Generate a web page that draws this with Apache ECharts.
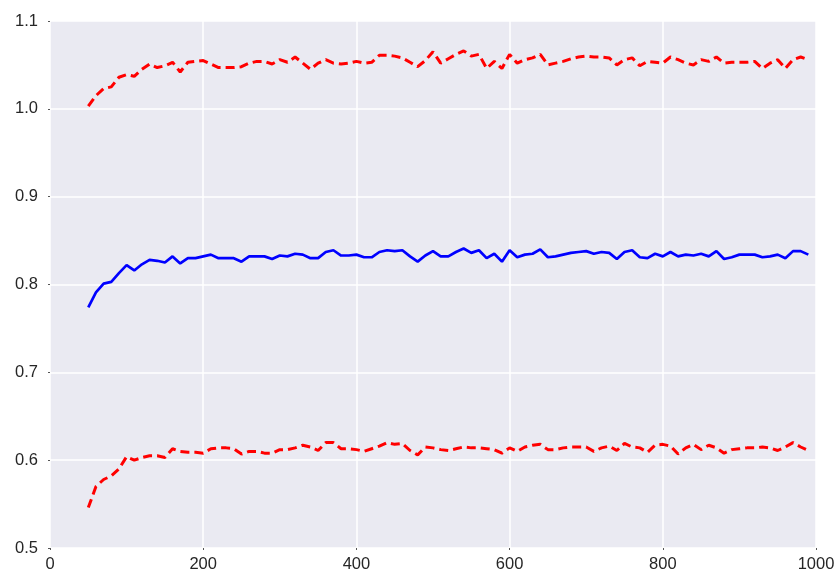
<!DOCTYPE html>
<html>
<head>
<meta charset="utf-8">
<script src="https://cdn.jsdelivr.net/npm/echarts@6/dist/echarts.min.js"></script>
<style>html,body{margin:0;padding:0;background:#fff;}#c{width:838px;height:577px;}</style>
</head>
<body>
<div id="c"></div>
<script>
const xValues = [50,60,70,80,90,100,110,120,130,140,150,160,170,180,190,200,210,220,230,240,250,260,270,280,290,300,310,320,330,340,350,360,370,380,390,400,410,420,430,440,450,460,470,480,490,500,510,520,530,540,550,560,570,580,590,600,610,620,630,640,650,660,670,680,690,700,710,720,730,740,750,760,770,780,790,800,810,820,830,840,850,860,870,880,890,900,910,920,930,940,950,960,970,980,990];
const meanValues = [0.774,0.791,0.801,0.803,0.813,0.822,0.816,0.823,0.828,0.827,0.825,0.832,0.824,0.830,0.830,0.832,0.834,0.830,0.830,0.830,0.826,0.832,0.832,0.832,0.829,0.833,0.832,0.835,0.834,0.830,0.830,0.837,0.839,0.833,0.833,0.834,0.831,0.831,0.837,0.839,0.838,0.839,0.832,0.826,0.833,0.838,0.832,0.832,0.837,0.841,0.836,0.839,0.830,0.835,0.826,0.839,0.831,0.834,0.835,0.840,0.831,0.832,0.834,0.836,0.837,0.838,0.835,0.837,0.836,0.829,0.837,0.839,0.831,0.830,0.835,0.832,0.837,0.832,0.834,0.833,0.835,0.832,0.838,0.829,0.831,0.834,0.834,0.834,0.831,0.832,0.834,0.830,0.838,0.838,0.834];
const upperValues = [1.003,1.015,1.023,1.025,1.036,1.039,1.037,1.045,1.051,1.047,1.049,1.053,1.042,1.053,1.054,1.055,1.051,1.047,1.047,1.047,1.048,1.052,1.054,1.054,1.051,1.056,1.053,1.059,1.052,1.045,1.052,1.056,1.052,1.051,1.052,1.054,1.052,1.053,1.061,1.061,1.060,1.058,1.053,1.048,1.055,1.065,1.052,1.057,1.062,1.066,1.060,1.062,1.046,1.054,1.046,1.062,1.052,1.056,1.058,1.062,1.050,1.052,1.054,1.057,1.059,1.060,1.059,1.059,1.058,1.050,1.056,1.058,1.049,1.054,1.053,1.052,1.059,1.056,1.052,1.050,1.056,1.054,1.059,1.052,1.053,1.053,1.053,1.054,1.046,1.052,1.056,1.046,1.056,1.059,1.056];
const lowerValues = [0.546,0.570,0.578,0.582,0.590,0.604,0.600,0.603,0.605,0.605,0.603,0.613,0.610,0.609,0.609,0.608,0.613,0.614,0.614,0.613,0.607,0.610,0.610,0.608,0.608,0.612,0.612,0.614,0.617,0.615,0.611,0.620,0.620,0.613,0.613,0.612,0.610,0.613,0.616,0.620,0.618,0.619,0.611,0.606,0.615,0.614,0.612,0.611,0.613,0.615,0.614,0.614,0.613,0.612,0.608,0.614,0.610,0.615,0.617,0.618,0.612,0.612,0.614,0.615,0.615,0.615,0.610,0.614,0.616,0.611,0.619,0.615,0.614,0.609,0.617,0.618,0.616,0.607,0.614,0.618,0.612,0.617,0.614,0.608,0.612,0.613,0.614,0.614,0.615,0.614,0.611,0.615,0.620,0.615,0.611];
const xTicks = [0,200,400,600,800,1000];
const yTicks = [0.5,0.6,0.7,0.8,0.9,1.0,1.1];

const zip = (xs, ys) => xs.map((x, i) => [x, ys[i]]);
const chart = echarts.init(document.getElementById('c'), null, {renderer: 'canvas'});
const labelStyle = {color: '#262626', fontSize: 16.5, fontFamily: 'Liberation Sans, Arial, sans-serif'};
chart.setOption({
  animation: false,
  backgroundColor: '#ffffff',
  grid: {left: 50, top: 21, right: 22, bottom: 29, show: true, backgroundColor: '#EAEAF2', borderWidth: 0},
  xAxis: {
    type: 'value', min: xTicks[0], max: xTicks[xTicks.length - 1], interval: 200,
    axisLine: {show: false},
    axisTick: {show: true, length: 2, inside: false, lineStyle: {color: '#555'}},
    axisLabel: Object.assign({margin: 8, formatter: v => String(v)}, labelStyle),
    splitLine: {show: true, lineStyle: {color: '#ffffff', width: 1.5}}
  },
  yAxis: {
    type: 'value', min: yTicks[0], max: yTicks[yTicks.length - 1], interval: 0.1,
    axisLine: {show: false},
    axisTick: {show: true, length: 2, lineStyle: {color: '#555'}},
    axisLabel: Object.assign({margin: 12, formatter: v => v.toFixed(1)}, labelStyle),
    splitLine: {show: true, lineStyle: {color: '#ffffff', width: 1.5}}
  },
  series: [
    {type: 'line', data: zip(xValues, upperValues), showSymbol: false, lineStyle: {color: '#ff0000', width: 3, type: [9, 5]}, z: 3},
    {type: 'line', data: zip(xValues, meanValues), showSymbol: false, lineStyle: {color: '#0000ff', width: 2.7}, z: 3},
    {type: 'line', data: zip(xValues, lowerValues), showSymbol: false, lineStyle: {color: '#ff0000', width: 3, type: [9, 5]}, z: 3}
  ]
});
</script>
</body>
</html>
